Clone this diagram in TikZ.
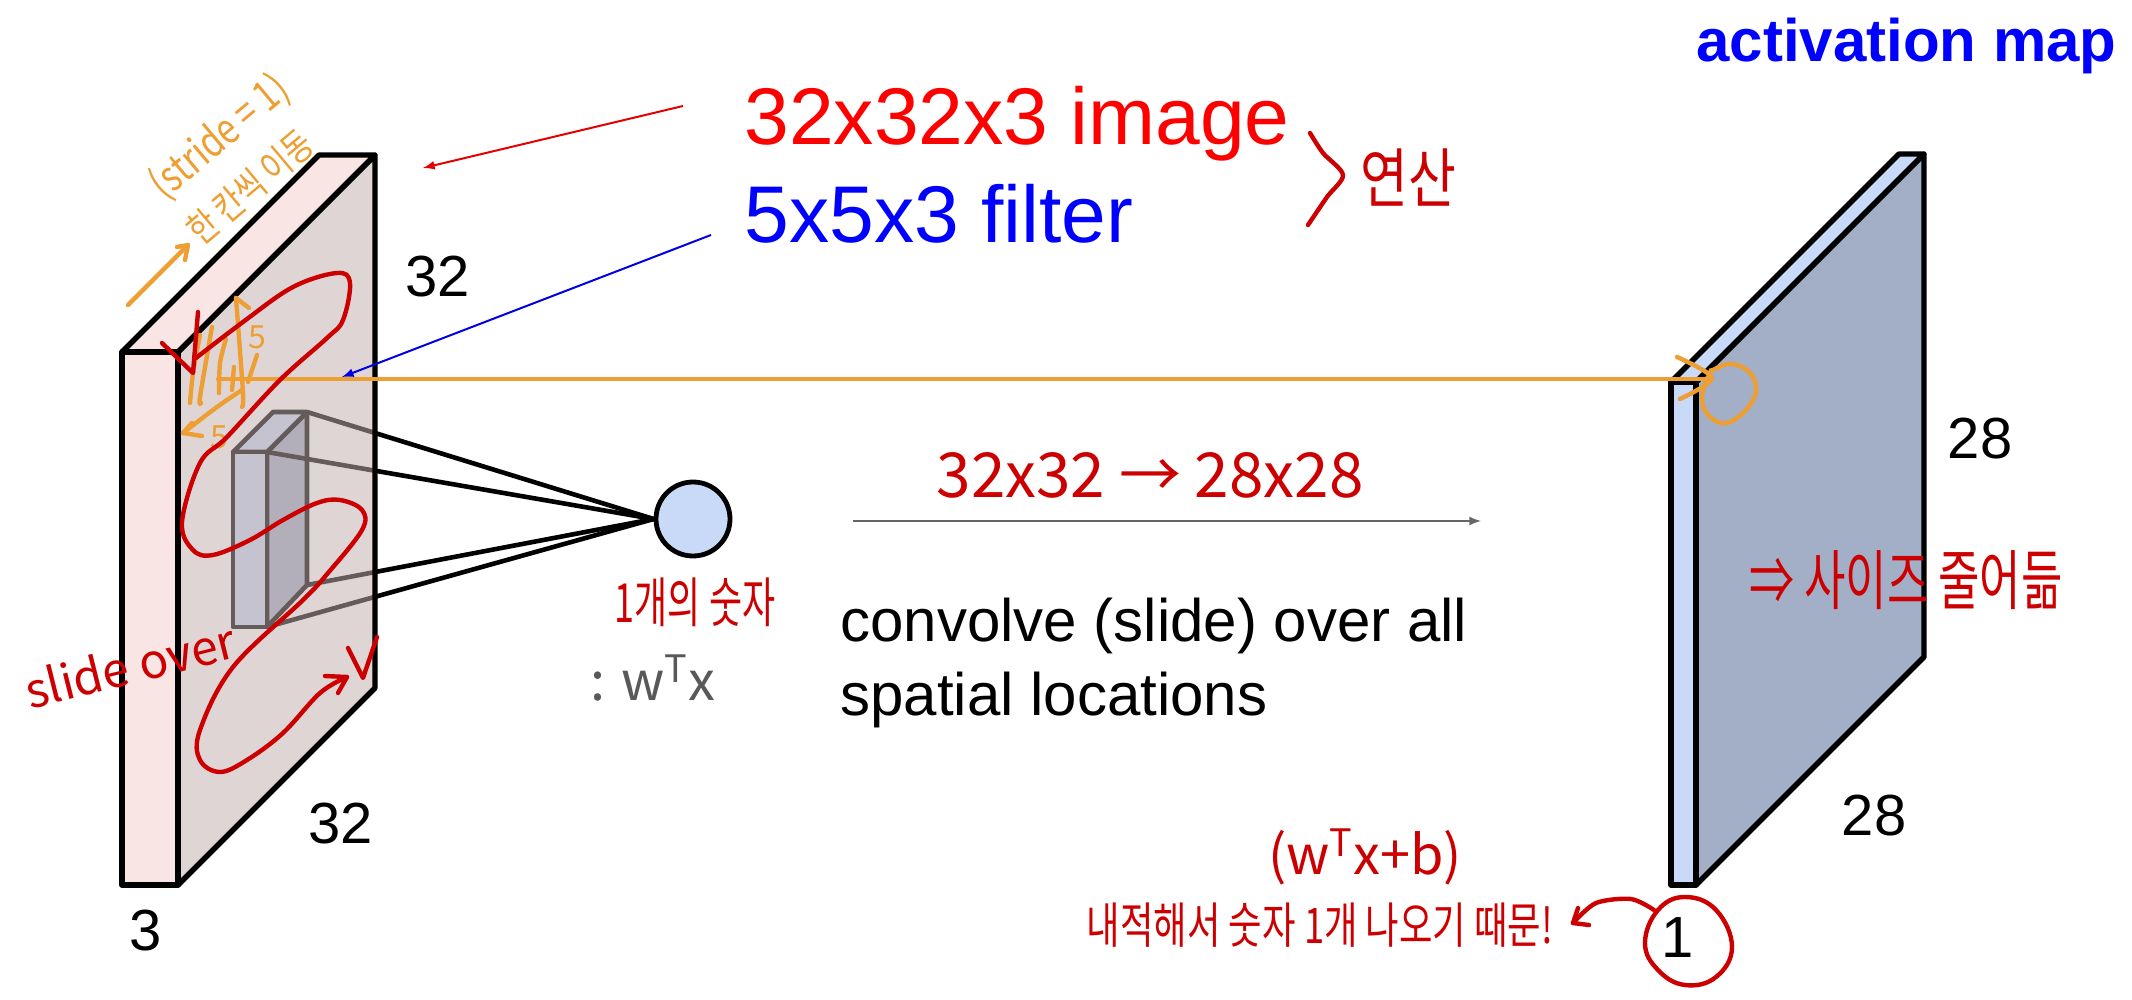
\documentclass[tikz,border=0pt]{standalone}
\usepackage{graphicx}
\usepackage{fontspec}
\setmainfont{Liberation Sans}
\newfontfamily\penfont{Noto Sans CJK KR}
\definecolor{penred}{HTML}{CC0000}
\definecolor{penorange}{HTML}{EE9F33}
\definecolor{slabpink}{HTML}{FAE5E5}
\definecolor{slabblue}{HTML}{C9DAF8}
\definecolor{sideblue}{HTML}{A2AFC6}
\definecolor{glasspink}{HTML}{C4AFAF}
\newcommand{\tall}[2]{\scalebox{1}[#1]{#2}}
\tikzset{
  label/.style={inner sep=0pt,font=\fontsize{29}{35}\selectfont},
  title/.style={inner sep=0pt,anchor=base west,font=\fontsize{40.2}{48}\selectfont},
  pen/.style={line width=2.2pt,line cap=round,line join=round},
  slab/.style={draw,line width=2.7pt,line join=round},
  wire/.style={line width=2.3pt},
  hand/.style={inner sep=0pt,text=penred,font=\penfont\fontsize{#1}{#1}\selectfont},
}
\begin{document}
\begin{tikzpicture}[x=0.5pt,y=-0.5pt]
\useasboundingbox (0,0) rectangle (2132,1000);
% input volume corners
\coordinate (A) at (122,352);
\coordinate (B) at (178,352);
\coordinate (C) at (178,885);
\coordinate (D) at (122,885);
\coordinate (E) at (319,155);
\coordinate (F) at (375,155);
\coordinate (G) at (375,688);
% filter corners
\coordinate (fa) at (233,452);
\coordinate (fb) at (267,452);
\coordinate (fc) at (267,627);
\coordinate (fd) at (233,627);
\coordinate (fe) at (273,412);
\coordinate (ff) at (307,412);
\coordinate (fg) at (307,585);
\node (neuron) at (693,519) [circle,draw,line width=2.4pt,fill=slabblue,minimum size=37pt,inner sep=0pt] {};
\draw[wire,line join=round,fill=sideblue] (fb) -- (ff) -- (fg) -- (fc) -- cycle;
\draw[wire,line join=round,fill=slabblue] (fa) -- (fe) -- (ff) -- (fb) -- cycle;
\draw[wire,line join=round,fill=slabblue] (fa) -- (fb) -- (fc) -- (fd) -- cycle;
\draw[wire] (ff) -- (neuron.west);
\draw[wire] (fb) -- (neuron.west);
\draw[wire] (fg) -- (neuron.west);
\draw[wire] (fc) -- (neuron.west);
\fill[glasspink,opacity=.52] (B) -- (F) -- (G) -- (C) -- cycle;
\draw[slab] (B) -- (F) -- (G) -- (C) -- cycle;
\draw[slab,fill=slabpink] (A) -- (E) -- (F) -- (B) -- cycle;
\draw[slab,fill=slabpink] (A) -- (B) -- (C) -- (D) -- cycle;
% activation map
\coordinate (H) at (1671,382);
\coordinate (I) at (1696,382);
\coordinate (J) at (1696,885);
\coordinate (K) at (1671,885);
\coordinate (L) at (1899,154);
\coordinate (M) at (1924,154);
\coordinate (N) at (1924,657);
\draw[slab,fill=sideblue] (I) -- (M) -- (N) -- (J) -- cycle;
\draw[slab,fill=slabblue] (H) -- (L) -- (M) -- (I) -- cycle;
\draw[slab,fill=slabblue] (H) -- (I) -- (J) -- (K) -- cycle;
% printed text
\node (imgtext) at (744,145) [title,text=red] {32x32x3 image};
\node (filtext) at (744,243) [title,text=blue] {5x5x3 filter};
\node (maptext) at (1696,62) [inner sep=0pt,anchor=base west,text=blue,font=\bfseries\fontsize{30}{36}\selectfont] {activation map};
\node (convtext) at (840,663) [inner sep=0pt,anchor=west,align=left,font=\fontsize{30}{37}\selectfont] {convolve (slide) over all\\spatial locations};
\node (numa) at (438,277) [label] {32};
\node (numb) at (341,824) [label] {32};
\node (numc) at (146,931) [label] {3};
\node (numd) at (1980,439) [label] {28};
\node (nume) at (1874,816) [label] {28};
\node (numf) at (1678,938) [label] {1};
% arrows
\coordinate (imgfrom) at (683,106);
\coordinate (imgto) at (423,168);
\coordinate (filfrom) at (711,235);
\coordinate (filto) at (342,377);
\coordinate (slidefrom) at (853,521);
\coordinate (slideto) at (1481,521);
\draw[-latex,red!90!black,line width=1pt] (imgfrom) -- (imgto);
\draw[-latex,blue!90!black,line width=1pt] (filfrom) -- (filto);
\draw[-latex,black!60,line width=1pt] (slidefrom) -- (slideto);
% orange pen
\coordinate (rayfrom) at (218,379);
\coordinate (rayto) at (1712,379);
\draw[pen,penorange] (rayfrom) -- (rayto);
\draw[pen,penorange] plot[smooth] coordinates {(1677,357) (1712,378) (1680,399)};
\draw[pen,penorange] plot[smooth cycle,tension=.7] coordinates {(1713,370) (1733,364) (1753,377) (1753,400) (1730,422) (1710,417) (1702,397) (1710,373)};
\draw[pen,penorange] plot[smooth] coordinates {(128,305) (158,275) (188,245)};
\draw[pen,penorange] (177,247) -- (188,245) -- (185,260);
\draw[pen,penorange] plot[smooth] coordinates {(190,403) (193,373) (200,335)};
\draw[pen,penorange] plot[smooth] coordinates {(201,403) (200,397) (212,327)};
\draw[pen,penorange] plot[smooth] coordinates {(219,393) (220,363) (226,339)};
\draw[pen,penorange] (232,390) -- (234,367);
\draw[pen,penorange] plot[smooth] coordinates {(242,407) (243,393) (236,298)};
\draw[pen,penorange] (236,298) -- (249,308);
\draw[pen,penorange] (257,355) -- (248,382);
\draw[pen,penorange] plot[smooth] coordinates {(242,390) (217,407) (183,433)};
\draw[pen,penorange] (192,423) -- (183,433) -- (202,436);
\node (fivea) at (257,337) [hand=16,text=penorange] {5};
\node (fiveb) at (219,437) [hand=16,text=penorange] {5};
\node (strideword) at (220,137) [hand=17,rotate=40,text=penorange] {\tall{1.25}{(stride = 1)}};
\node (movedword) at (250,187) [hand=15,rotate=40,text=penorange] {\tall{1.25}{한 칸씩 이동}};
% red pen
\draw[pen,penred] plot[smooth,tension=.6] coordinates {(196,358) (243,322) (293,287) (337,273) (350,283) (343,320) (327,338) (280,380) (227,437) (200,463) (182,522) (193,550) (213,555) (250,540) (283,520) (317,503) (340,500) (362,510) (362,530) (328,573) (303,600) (233,667) (200,730) (200,760) (220,772) (247,760) (283,733) (320,693) (347,677)};
\draw[pen,penred] (325,676) -- (347,677) -- (338,693);
\draw[pen,penred] (162,343) -- (193,373) -- (198,312);
\draw[pen,penred] (348,648) -- (363,678) -- (377,637);
\draw[pen,penred] plot[smooth] coordinates {(1310,133) (1323,153) (1343,175) (1327,197) (1308,225)};
\draw[pen,penred] plot[smooth cycle,tension=.7] coordinates {(1685,897) (1716,910) (1732,947) (1716,977) (1685,985) (1658,970) (1645,943) (1658,910)};
\coordinate (onefrom) at (1654,910);
\coordinate (oneto) at (1573,923);
\draw[pen,penred] plot[smooth] coordinates {(onefrom) (1631,899) (1596,903) (oneto)};
\draw[pen,penred] (1578,908) -- (oneto) -- (1589,925);
\node (slideword) at (130,665) [hand=24,rotate=14] {slide over};
\node (calcword) at (1408,178) [hand=26] {\tall{1.25}{연산}};
\node (sizeword) at (1150,475) [hand=31] {32x32 → 28x28};
\node (oneword) at (695,602) [hand=18] {\tall{1.5}{1개의 숫자}};
\node (dotword) at (653,678) [hand=27,text=black!65] {: w\textsuperscript{T}x};
\node (shrinkword) at (1906,580) [hand=22.5] {\tall{1.45}{⇒ 사이즈 줄어듦}};
\node (formword) at (1365,857) [hand=27] {(w\textsuperscript{T}x+b)};
\node (whyword) at (1320,925) [hand=18.2] {\tall{1.35}{내적해서 숫자 1개 나오기 때문!}};
\end{tikzpicture}
\end{document}
